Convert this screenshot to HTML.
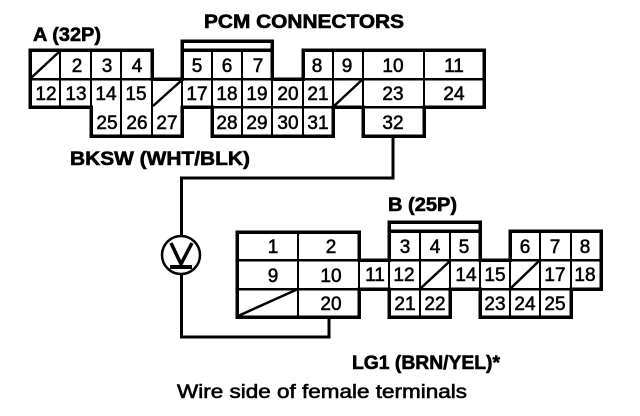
<!DOCTYPE html>
<html>
<head>
<meta charset="utf-8">
<style>
html,body{margin:0;padding:0;background:#fff;}
svg{display:block;}
text{font-family:"Liberation Sans",sans-serif;fill:#000;}
.n{font-size:19px;text-anchor:middle;stroke:#000;stroke-width:.55px;}
.t{font-size:19px;font-weight:bold;stroke:#000;stroke-width:.6px;}
.o{fill:none;stroke:#000;stroke-width:3.5;shape-rendering:crispEdges;}
.m{fill:none;stroke:#000;stroke-width:2.500;shape-rendering:crispEdges;}
.i{fill:none;stroke:#000;stroke-width:2;shape-rendering:crispEdges;}
.s{fill:none;stroke:#000;stroke-width:2.500;}
</style>
</head>
<body>
<svg width="640" height="416" viewBox="0 0 640 416" xmlns="http://www.w3.org/2000/svg">
<rect width="640" height="416" fill="#fff"/>

<!-- Titles -->
<text class="t" x="204" y="28" textLength="200" lengthAdjust="spacingAndGlyphs">PCM CONNECTORS</text>
<text class="t" x="33" y="41" textLength="68" lengthAdjust="spacingAndGlyphs">A (32P)</text>
<text class="t" x="70" y="165" textLength="180" lengthAdjust="spacingAndGlyphs">BKSW (WHT/BLK)</text>
<text class="t" x="388" y="211" textLength="69" lengthAdjust="spacingAndGlyphs">B (25P)</text>
<text class="t" x="352" y="369" textLength="148" lengthAdjust="spacingAndGlyphs">LG1 (BRN/YEL)*</text>
<text class="t" x="177" y="398" textLength="290" lengthAdjust="spacingAndGlyphs" style="font-weight:normal;stroke-width:.6px">Wire side of female terminals</text>

<!-- Connector A -->
<path class="o" d="M182 50V41H272V50"/>
<path class="o" d="M30 50H152V79H182V50H272V79H303V50H484V107H424V136H363V107H333V136H212V107H182V136H91V107H30Z"/>
<path class="m" d="M30 79H152M182 79H272M303 79H484M30 107H91M182 107H333M363 107H424"/>
<path class="i" d="M60 50V107M91 50V136M121 50V136M152 79V136M182 79V107M212 50V136M242 50V136M272 79V136M303 79V136M333 50V107M363 50V136M424 50V107"/>
<path class="s" d="M31 78L60 51M153 106L182 80M334 106L363 79"/>

<text class="n" x="77" y="72">2</text><text class="n" x="107" y="72">3</text><text class="n" x="137" y="72">4</text>
<text class="n" x="197" y="72">5</text><text class="n" x="227" y="72">6</text><text class="n" x="258" y="72">7</text>
<text class="n" x="317" y="72">8</text><text class="n" x="347" y="72">9</text>
<text class="n" x="393" y="72">10</text><text class="n" x="454" y="72">11</text>

<text class="n" x="46" y="100">12</text><text class="n" x="76" y="100">13</text><text class="n" x="106" y="100">14</text><text class="n" x="136" y="100">15</text>
<text class="n" x="197" y="100">17</text><text class="n" x="227" y="100">18</text><text class="n" x="257" y="100">19</text><text class="n" x="288" y="100">20</text><text class="n" x="318" y="100">21</text>
<text class="n" x="393" y="100">23</text><text class="n" x="454" y="100">24</text>

<text class="n" x="107" y="129">25</text><text class="n" x="137" y="129">26</text><text class="n" x="167" y="129">27</text>
<text class="n" x="227" y="129">28</text><text class="n" x="257" y="129">29</text><text class="n" x="288" y="129">30</text><text class="n" x="318" y="129">31</text>
<text class="n" x="393" y="129">32</text>

<!-- Wires -->
<path d="M393 136V178H181.500V236M181.500 274V337H329V317" fill="none" stroke="#000" stroke-width="3"/>

<!-- Voltmeter -->
<circle cx="181" cy="255" r="19" fill="#fff" stroke="#000" stroke-width="2.500"/>
<path d="M171 243L181 264L192 243" fill="none" stroke="#000" stroke-width="3.500"/>
<path d="M170 267H192" fill="none" stroke="#000" stroke-width="4"/>

<!-- Connector B -->
<path class="o" d="M389 231V222H480V231"/>
<path class="o" d="M237 232H359V260H389V231H480V260H510V231H601V289H571V317H480V289H450V317H389V289H359V317H237Z"/>
<path class="m" d="M237 260H359M389 260H480M510 260H601M237 289H359M389 289H450M480 289H571M359 289H389"/>
<path class="i" d="M298 232V317M359 260V289M389 260V289M420 231V317M450 231V289M480 260V289M510 231V317M540 231V317M571 231V289"/>
<path class="s" d="M238 316L298 289M421 288L450 261M511 288L540 260"/>

<text class="n" x="273" y="253">1</text><text class="n" x="331" y="253">2</text>
<text class="n" x="273" y="282">9</text><text class="n" x="331" y="282">10</text>
<text class="n" x="331" y="310">20</text>
<text class="n" x="375" y="281">11</text>

<text class="n" x="405" y="253">3</text><text class="n" x="435" y="253">4</text><text class="n" x="464" y="253">5</text>
<text class="n" x="525" y="253">6</text><text class="n" x="555" y="253">7</text><text class="n" x="585" y="253">8</text>

<text class="n" x="404" y="281">12</text><text class="n" x="466" y="281">14</text><text class="n" x="495" y="281">15</text>
<text class="n" x="555" y="281">17</text><text class="n" x="585" y="281">18</text>

<text class="n" x="405" y="310">21</text><text class="n" x="435" y="310">22</text>
<text class="n" x="495" y="310">23</text><text class="n" x="525" y="310">24</text><text class="n" x="555" y="310">25</text>
</svg>
</body>
</html>
